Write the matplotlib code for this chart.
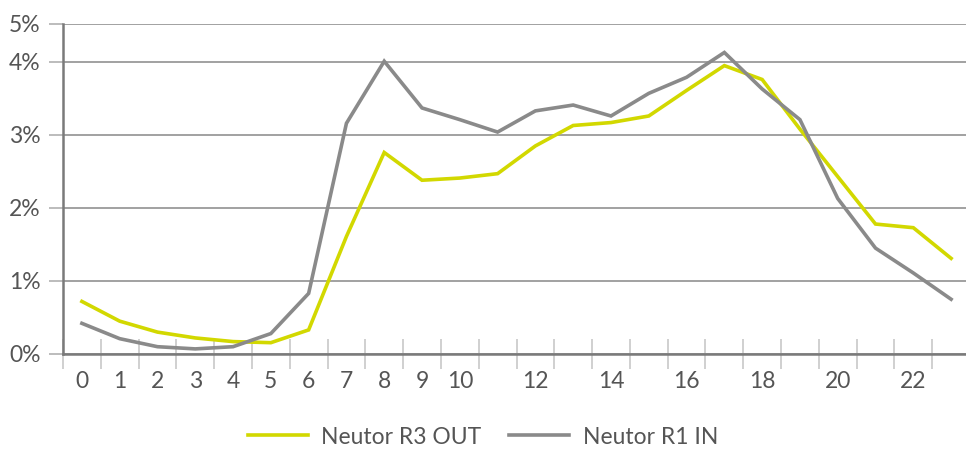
import matplotlib
matplotlib.use("Agg")
import matplotlib.pyplot as plt
import numpy as np

hours = list(range(24))
r3_out = [0.72, 0.45, 0.30, 0.22, 0.17, 0.155, 0.33, 1.61, 2.76, 2.38, 2.41, 2.47,
          2.85, 3.13, 3.17, 3.26, 3.61, 3.95, 3.76, 3.08, 2.43, 1.78, 1.73, 1.31]
r1_in = [0.42, 0.21, 0.10, 0.07, 0.10, 0.28, 0.83, 3.16, 4.01, 3.37, 3.21, 3.04,
         3.33, 3.41, 3.26, 3.57, 3.79, 4.13, 3.63, 3.21, 2.13, 1.45, 1.11, 0.75]
x_labels = ["0", "1", "2", "3", "4", "5", "6", "7", "8", "9", "10",
            "12", "14", "16", "18", "20", "22"]
x_label_pos = [0, 1, 2, 3, 4, 5, 6, 7, 8, 9, 10, 12, 14, 16, 18, 20, 22]
y_ticks = [0, 1, 2, 3, 4, 4.52]
y_labels = ["0%", "1%", "2%", "3%", "4%", "5%"]

plt.rcParams['font.family'] = ['Lato', 'DejaVu Sans']

fig = plt.figure(figsize=(9.66, 4.51), dpi=100)
W, H = 966, 451
left, right, top, bottom = 63, 970, 24, 354
ax = fig.add_axes([left / W, (H - bottom) / H, (right - left) / W, (bottom - top) / H])

yellow = "#d2d800"
gray = "#8a8a8a"

ax.plot(hours, r3_out, color=yellow, lw=2.6, label="Neutor R3 OUT", solid_joinstyle="miter")
ax.plot(hours, r1_in, color=gray, lw=2.6, label="Neutor R1 IN", solid_joinstyle="miter")

ax.set_xlim(-0.5, 23.5)
ax.set_ylim(0, 4.52)

ax.set_yticks(y_ticks)
ax.set_yticklabels(y_labels)
ax.yaxis.grid(True, color="#9a9a9a", lw=1.3)
ax.set_axisbelow(True)

ax.set_xticks(x_label_pos)
ax.set_xticklabels(x_labels)
ax.set_xticks(np.arange(-0.5, 23.6, 1), minor=True)
ax.tick_params(axis="x", which="major", length=0, pad=12, labelsize=16.5, labelcolor="#555555")
ax.tick_params(axis="x", which="minor", direction="inout", length=22, width=1.2, color="#c8c8c8")
ax.tick_params(axis="y", which="major", direction="out", length=10, width=1.2, color="#b0b0b0",
               labelsize=16.5, labelcolor="#555555", pad=6)

for s in ["top", "right"]:
    ax.spines[s].set_visible(False)
ax.spines["left"].set_color("#7a7a7a")
ax.spines["left"].set_linewidth(1.8)
ax.spines["bottom"].set_color("#7a7a7a")
ax.spines["bottom"].set_linewidth(1.8)

fig.legend(loc="center", bbox_to_anchor=(0.5, (H - 437) / H), ncol=2, frameon=False,
           fontsize=16.5, handlelength=2.6, columnspacing=1.2, handletextpad=0.6,
           labelcolor="#555555")

fig.savefig("out.png", dpi=100)
